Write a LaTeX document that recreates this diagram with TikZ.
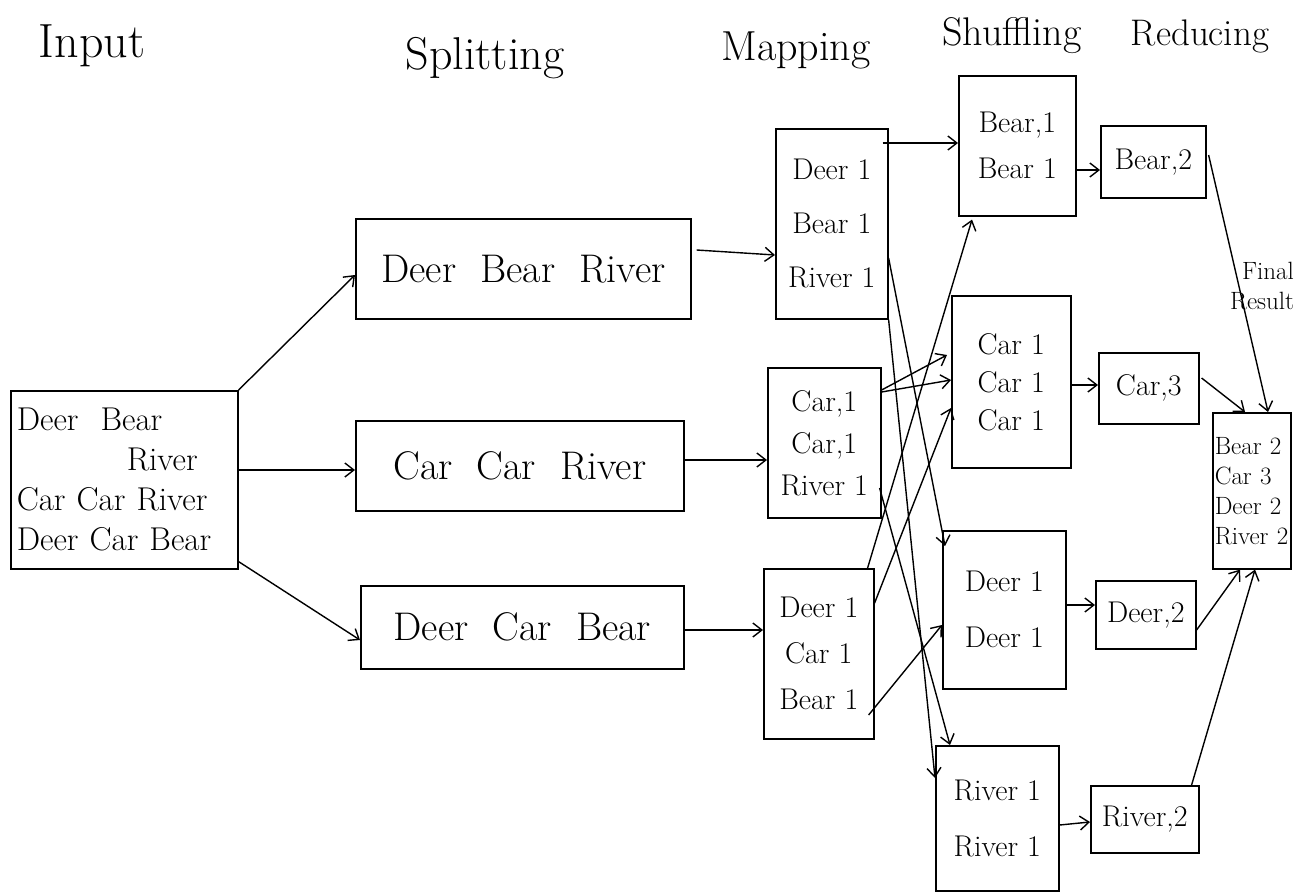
\documentclass[tikz,border=0pt]{standalone}
\usepackage{fontspec}
\usetikzlibrary{arrows.meta,calc}
\begin{document}
\begin{tikzpicture}[x=1pt,y=-1pt,
  box/.style={draw, line width=1.6pt, anchor=north west, inner sep=0pt, align=center},
  arr/.style={line width=1.4pt, -{Straight Barb[length=9pt,width=14pt,line width=1.4pt]}},
  head/.style={font=\fontsize{#1}{#1}\selectfont},
  big/.style={font=\fontsize{40}{46}\selectfont},
  mid/.style={font=\fontsize{30}{34}\selectfont},
  small/.style={font=\fontsize{25}{30}\selectfont}]
\useasboundingbox (0,0) rectangle (1308,894);
\fill[white] (0,0) rectangle (1308,894);

% column headings
\node[head=48] (hin)  at (92,46)   {Input};
\node[head=46] (hspl) at (485,58)  {Splitting};
\node[head=42] (hmap) at (796,50)  {Mapping};
\node[head=40] (hshf) at (1012,36) {Shuffling};
\node[head=37] (hred) at (1200,36) {Reducing};

% input
\node[box, font=\fontsize{33}{40}\selectfont, minimum width=227pt, minimum height=178pt, text width=215pt, align=left] (in) at (10,390)
  {Deer\ \ Bear\\\hspace*{110pt}River\\Car Car River\\Deer Car Bear};

% splitting
\node[box, big, minimum width=335pt, minimum height=100pt] (s1) at (355,218) {Deer\ \ Bear\ \ River};
\node[box, big, minimum width=328pt, minimum height=90pt]  (s2) at (355,420) {Car\ \ Car\ \ River};
\node[box, big, minimum width=323pt, minimum height=83pt]  (s3) at (360,585) {Deer\ \ Car\ \ Bear};

% mapping
\node[box, mid, minimum width=112pt, minimum height=190pt] (m1) at (775,128) {Deer 1\\[20pt]Bear 1\\[20pt]River 1};
\node[box, mid, minimum width=113pt, minimum height=150pt] (m2) at (767,367) {Car,1\\[8pt]Car,1\\[8pt]River 1};
\node[box, mid, minimum width=110pt, minimum height=170pt] (m3) at (763,568) {Deer 1\\[12pt]Car 1\\[12pt]Bear 1};

% shuffling
\node[box, mid, minimum width=117pt, minimum height=140pt] (h1) at (958,75)  {Bear,1\\[12pt]Bear 1};
\node[box, mid, minimum width=119pt, minimum height=172pt] (h2) at (951,295) {Car 1\\[4pt]Car 1\\[4pt]Car 1};
\node[box, mid, minimum width=123pt, minimum height=158pt] (h3) at (942,530) {Deer 1\\[22pt]Deer 1};
\node[box, mid, minimum width=123pt, minimum height=145pt] (h4) at (935,745) {River 1\\[22pt]River 1};

% reducing
\node[box, mid, minimum width=105pt, minimum height=72pt] (r1) at (1100,125)  {Bear,2};
\node[box, mid, minimum width=100pt, minimum height=71pt] (r2) at (1098,352)  {Car,3};
\node[box, mid, minimum width=100pt, minimum height=68pt] (r3) at (1095,580)  {Deer,2};
\node[box, mid, minimum width=108pt, minimum height=67pt] (r4) at (1090,785)  {River,2};

% final result
\node[box, small, minimum width=78pt, minimum height=156pt, text width=76pt, align=left] (fin) at (1212,412)
  {\hspace*{1pt}Bear 2\\\hspace*{1pt}Car 3\\\hspace*{1pt}Deer 2\\\hspace*{1pt}River 2};
\node[small, align=left] (fr) at (1262,286) {\hspace*{12pt}Final\\Result};

% input -> splitting
\draw[arr] (in.north east) -- ($(s1.north west)+(0,57)$);
\draw[arr] ($(in.north east)+(0,80)$) -- ($(s2.north west)+(0,50)$);
\draw[arr] ($(in.south east)+(0,-8)$) -- ($(s3.north west)+(0,55)$);

% splitting -> mapping
\draw[arr] ($(s1.north east)+(5,32)$) -- ($(m1.north west)+(0,127)$);
\draw[arr] ($(s2.north east)+(0,40)$) -- ($(m2.north west)+(0,93)$);
\draw[arr] ($(s3.north east)+(0,45)$) -- ($(m3.north west)+(0,62)$);

% mapping -> shuffling
\draw[arr] ($(m1.north east)+(-6,15)$) -- ($(h1.north west)+(0,68)$);
\draw[arr] ($(m1.north east)+(0,130)$) -- ($(h3.north west)+(3,16)$);
\draw[arr] (m1.south east) -- ($(h4.north west)+(0,33)$);
\draw[arr] ($(m2.north east)+(0,23)$) -- ($(h2.north west)+(-4,60)$);
\draw[arr] ($(m2.north east)+(0,25)$) -- ($(h2.north west)+(0,85)$);
\draw[arr] ($(m2.north east)+(-2,121)$) -- ($(h4.north west)+(15,0)$);
\draw[arr] ($(m3.north east)+(-7,0)$) -- ($(h1.south west)+(14,3)$);
\draw[arr] ($(m3.north east)+(0,35)$) -- ($(h2.north west)+(0,113)$);
\draw[arr] ($(m3.north east)+(-6,147)$) -- ($(h3.north west)+(0,95)$);

% shuffling -> reducing
\draw[arr] ($(h1.north east)+(0,95)$) -- ($(r1.north west)+(0,45)$);
\draw[arr] ($(h2.north east)+(0,90)$) -- ($(r2.north west)+(0,33)$);
\draw[arr] ($(h3.north east)+(0,75)$) -- ($(r3.north west)+(0,25)$);
\draw[arr] ($(h4.north east)+(0,80)$) -- ($(r4.north west)+(0,37)$);

% reducing -> final result
\draw[arr] ($(r1.north east)+(2,30)$) -- ($(fin.north west)+(56,0)$);
\draw[arr] ($(r2.north east)+(2,26)$) -- ($(fin.north west)+(33,0)$);
\draw[arr] ($(r3.north east)+(0,50)$) -- ($(fin.south west)+(28,0)$);
\draw[arr] ($(r4.north east)+(-8,0)$) -- ($(fin.south west)+(43,0)$);
\end{tikzpicture}
\end{document}
